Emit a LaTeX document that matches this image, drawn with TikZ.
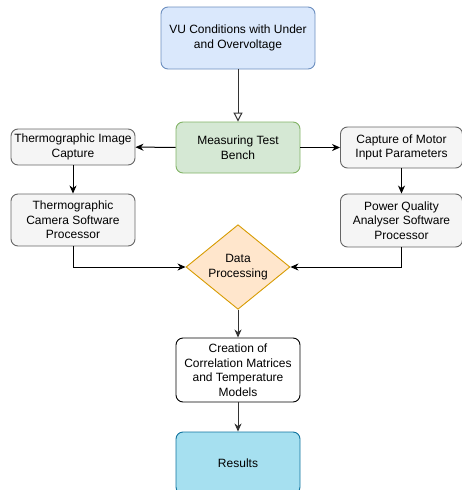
\documentclass[tikz,border=0pt]{standalone}
\usepackage{fontspec}
\setmainfont{Liberation Sans}
\usetikzlibrary{arrows.meta,shapes.geometric}
\definecolor{vufill}{HTML}{DAE8FC}\definecolor{vudraw}{HTML}{6C8EBF}
\definecolor{gfill}{HTML}{D5E8D4}\definecolor{gdraw}{HTML}{82B366}
\definecolor{bfill}{HTML}{F5F5F5}\definecolor{bdraw}{HTML}{666666}
\definecolor{ofill}{HTML}{FFE6CC}\definecolor{odraw}{HTML}{D79B00}
\definecolor{rfill}{HTML}{A6E0F0}\definecolor{rdraw}{HTML}{10739E}
\definecolor{ln}{HTML}{333333}
\begin{document}
\begin{tikzpicture}[x=1pt,y=-1pt,
  every node/.style={font=\fontsize{12}{14.5}\selectfont, align=center, inner sep=0pt},
  box/.style={draw, rounded corners=7pt, line width=0.9pt, minimum width=#1},
  box/.default=124pt,
  graybox/.style={box, fill=bfill, draw=bdraw},
  arr/.style={-{Stealth[length=8pt,width=7pt,inset=2.5pt]}, line width=1pt},
]
\useasboundingbox (0,0) rectangle (462,490);
\clip (0,0) rectangle (462,490);
\node[box=154pt, fill=vufill, draw=vudraw, minimum height=62pt] (vu) at (238,38) {VU Conditions with Under\\and Overvoltage};
\node[box, fill=gfill, draw=gdraw, minimum height=51pt] (mtb) at (238,147.5) {Measuring Test\\Bench};
\node[graybox, minimum height=36pt] (tic) at (73,147) {Thermographic Image\\Capture};
\node[graybox, minimum height=52pt] (tcs) at (73,220) {Thermographic\\Camera Software\\Processor};
\node[graybox, minimum height=41pt, minimum width=122pt] (cmi) at (401.5,147.5) {Capture of Motor\\Input Parameters};
\node[graybox, minimum height=53pt, minimum width=122pt] (pqa) at (401.5,220.5) {Power Quality\\Analyser Software\\Processor};
\node[diamond, draw=odraw, fill=ofill, line width=0.9pt, minimum width=104pt, minimum height=80pt, inner sep=0pt] (dp) at (238,267) {Data\\Processing};
\node[box, fill=white, draw=black, minimum height=64pt] (cr) at (238,370) {Creation of\\Correlation Matrices\\and Temperature\\Models};
\node[box, fill=rfill, draw=rdraw, minimum height=62pt] (res) at (238,463) {Results};
\draw[ln, line width=1pt, -{Triangle[open,length=9pt,width=9pt]}] (vu) -- (mtb);
\draw[arr] (mtb) -- (tic);
\draw[arr] (mtb) -- (cmi);
\draw[arr] (tic) -- (tcs);
\draw[arr] (cmi.south -| pqa) -- (pqa);
\draw[arr] (tcs.south) |- (dp.west);
\draw[arr] (pqa.south) |- (dp.east);
\draw[arr, ln] (dp) -- (cr);
\draw[arr, ln] (cr) -- (res);
\end{tikzpicture}
\end{document}
